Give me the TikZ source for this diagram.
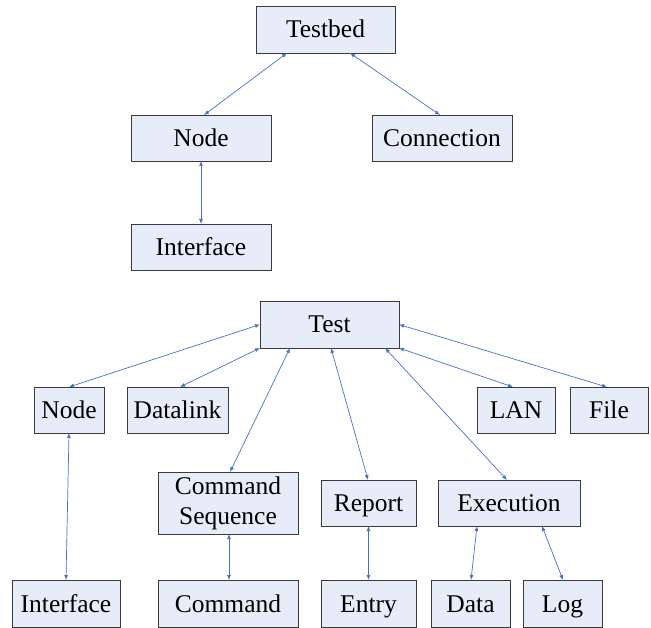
\documentclass[tikz,border=0pt]{standalone}
\usepackage{fontspec}
\setmainfont{Liberation Serif}
\usetikzlibrary{arrows.meta}
\definecolor{boxfill}{HTML}{E7EDF8}
\definecolor{boxline}{HTML}{3A3A3A}
\definecolor{linkcol}{HTML}{4472C4}
\tikzset{
  boxbase/.style={draw=boxline, line width=0.9pt, fill=boxfill, inner sep=0pt, outer sep=0pt,
    align=center, font=\fontsize{25.5}{30}\selectfont},
  box/.style={boxbase, text height=18pt, text depth=1pt},
  link/.style={draw=linkcol, line width=0.7pt,
    {Latex[length=5pt,width=4pt]}-{Latex[length=5pt,width=4pt]}}
}
\newcommand{\bx}[6]{\node[box, minimum width=#4pt, minimum height=#5pt] (#1) at (#2pt,-#3pt) {#6};}
\begin{document}
\begin{tikzpicture}
\useasboundingbox (0,0) rectangle (651pt,-628pt);
\bx{testbed}{325.5}{29.5}{139}{47}{Testbed}
\bx{nodeA}{201}{138}{140}{46}{Node}
\bx{conn}{442}{138}{140}{46}{Connection}
\bx{intfA}{201}{247}{140}{46}{Interface}
\bx{test}{329.5}{324.5}{139}{47}{Test}
\bx{nodeB}{69}{410}{70}{46}{Node}
\bx{dlink}{177.5}{410}{101}{46}{Datalink}
\bx{lan}{516}{410}{78}{46}{LAN}
\bx{file}{609}{410}{78}{46}{File}
\node[boxbase, minimum width=140pt, minimum height=62pt] (cseq) at (228pt,-503pt) {Command\\Sequence};
\bx{report}{368.5}{503}{95}{46}{Report}
\bx{exec}{509}{503}{142}{46}{Execution}
\bx{intfB}{66}{603.5}{108}{47}{Interface}
\bx{cmd}{228}{603.5}{140}{47}{Command}
\bx{entry}{368.5}{603.5}{95}{47}{Entry}
\bx{data}{470.5}{603.5}{79}{47}{Data}
\bx{log}{562.5}{603.5}{79}{47}{Log}

\draw[link] ([xshift=-38.5pt]testbed.south) -- ([xshift=3pt]nodeA.north);
\draw[link] ([xshift=24.5pt]testbed.south) -- ([xshift=-2pt]conn.north);
\draw[link] (nodeA.south) -- (intfA.north);

\draw[link] (test.west) -- (nodeB.north);
\draw[link] (test.south west) -- ([xshift=2.5pt]dlink.north);
\draw[link] ([xshift=-39.5pt]test.south) -- ([xshift=2pt]cseq.north);
\draw[link] ([xshift=1.5pt]test.south) -- ([xshift=-0.5pt]report.north);
\draw[link] ([xshift=55.5pt]test.south) -- ([xshift=-2pt]exec.north);
\draw[link] (test.south east) -- ([xshift=-3pt]lan.north);
\draw[link] (test.east) -- ([xshift=-2pt]file.north);

\draw[link] (nodeB.south) -- (intfB.north);
\draw[link] ([xshift=1pt]cseq.south) -- ([xshift=1pt]cmd.north);
\draw[link] (report.south) -- (entry.north);
\draw[link] ([xshift=-32pt]exec.south) -- ([xshift=0.5pt]data.north);
\draw[link] ([xshift=33pt]exec.south) -- ([xshift=0.5pt]log.north);
\end{tikzpicture}
\end{document}
